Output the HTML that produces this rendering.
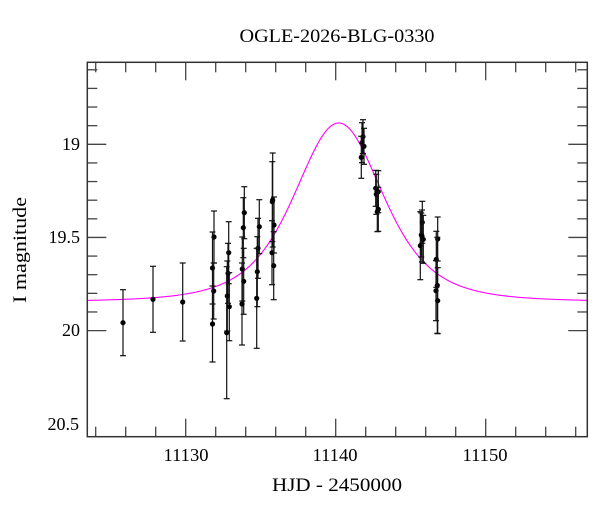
<!DOCTYPE html>
<html><head><meta charset="utf-8"><style>
html,body{margin:0;padding:0;background:#fff;width:600px;height:512px;overflow:hidden}
svg text{font-family:"Liberation Serif",serif;fill:#000}
</style></head><body>
<svg id="s" width="600" height="512" viewBox="0 0 600 512" xmlns="http://www.w3.org/2000/svg">
<text x="337" y="42" font-size="19" text-anchor="middle" textLength="195" lengthAdjust="spacingAndGlyphs">OGLE-2026-BLG-0330</text>
<text x="337" y="491" font-size="19" text-anchor="middle" textLength="130" lengthAdjust="spacingAndGlyphs">HJD - 2450000</text>
<text transform="translate(26,250) rotate(-90)" font-size="19" text-anchor="middle" textLength="106" lengthAdjust="spacingAndGlyphs">I magnitude</text>
<g font-size="18" text-anchor="end">
<text x="80" y="150">19</text>
<text x="80" y="243">19.5</text>
<text x="80" y="336">20</text>
<text x="79" y="430">20.5</text>
</g>
<g font-size="18" text-anchor="middle">
<text x="186" y="461" textLength="45" lengthAdjust="spacingAndGlyphs">11130</text>
<text x="335" y="461" textLength="45" lengthAdjust="spacingAndGlyphs">11140</text>
<text x="485" y="461" textLength="45" lengthAdjust="spacingAndGlyphs">11150</text>
</g>
<g id="ticks" stroke="#444" stroke-width="1.3"></g>
<path id="curve" fill="none" stroke="#ff00ff" stroke-width="1.1"/>
<g id="data" stroke="#111" stroke-width="1.2" fill="#000"></g>
<rect x="87.3" y="62.3" width="500" height="374.4" fill="none" stroke="#333" stroke-width="1.5"/>
</svg>
<script>
var L=87.3,R=587.3,T=62.3,B=436.7;
function X(t){return 185.7+(t-11130)*15;}
function Y(m){return 144.3+(m-19)*186.3;}
var tk=document.getElementById('ticks'),h='';
for(var t=11124;t<=11156;t+=2){var x=X(t),lg=(t%10==0)?18:10;
h+='<line x1="'+x+'" y1="'+B+'" x2="'+x+'" y2="'+(B-lg)+'"/><line x1="'+x+'" y1="'+T+'" x2="'+x+'" y2="'+(T+lg)+'"/>';}
for(var i=6;i<=20;i++){var m=18+i*0.1,y=Y(m),lg=(i%5==0)?19:10;
h+='<line x1="'+L+'" y1="'+y+'" x2="'+(L+lg)+'" y2="'+y+'"/><line x1="'+R+'" y1="'+y+'" x2="'+(R-lg)+'" y2="'+y+'"/>';}
tk.innerHTML=h;
var d='';
for(var x=L;x<=R;x+=1){var t=11130+(x-185.7)/15,dt=t-11140.2;
var f=1+1.42*Math.pow(1+dt*dt/20.6,-2);var m=19.845-2.5*Math.log10(f);
d+=(x==L?'M':'L')+x.toFixed(1)+' '+Y(m).toFixed(2);}
document.getElementById('curve').setAttribute('d',d);
var P=[[123,322.7,33],[153,299.3,33],[182.7,302,39],
[214,237,26],[212.5,268,36],[213.7,291,28],[212.5,324,38],
[228.7,252.7,31],[228,273.3,30],[227.3,296,35],[229.3,306.7,34],[226.7,332.7,66],
[244.3,212.7,26],[243.3,227.7,30],[242.3,269,32],[243.7,281.3,33],[242,304,41],
[259.3,226.7,27],[258,248.3,30],[257.3,271.7,35],[256.7,298.3,50],
[272.3,201.7,40],[272.7,200,47],[274,225,28],[272,252.7,32],[273.7,265.7,34],
[363,136.7,17],[362,142.7,20],[364,146.3,18],[361.3,157.3,21],
[375.7,188.3,18],[376.3,194.3,20],[378.3,191.7,21],[377.3,211.7,20],[378.3,209.3,22],
[421.3,235,22],[422.3,222.3,21],[423.3,239.3,24],[420.3,245.7,34],[422,236,26],
[437.7,239,22],[436.3,259.3,28],[437.3,285.3,48],[436,290.7,30],[437.7,300.7,33]];
var g='';
P.forEach(function(p){var x=p[0],y=p[1],e=p[2];
g+='<line x1="'+x+'" y1="'+(y-e)+'" x2="'+x+'" y2="'+(y+e)+'"/>'+
'<line x1="'+(x-3)+'" y1="'+(y-e)+'" x2="'+(x+3)+'" y2="'+(y-e)+'"/>'+
'<line x1="'+(x-3)+'" y1="'+(y+e)+'" x2="'+(x+3)+'" y2="'+(y+e)+'"/>'+
'<circle cx="'+x+'" cy="'+y+'" r="2.6" stroke="none"/>';});
document.getElementById('data').innerHTML=g;
</script>
</body></html>
